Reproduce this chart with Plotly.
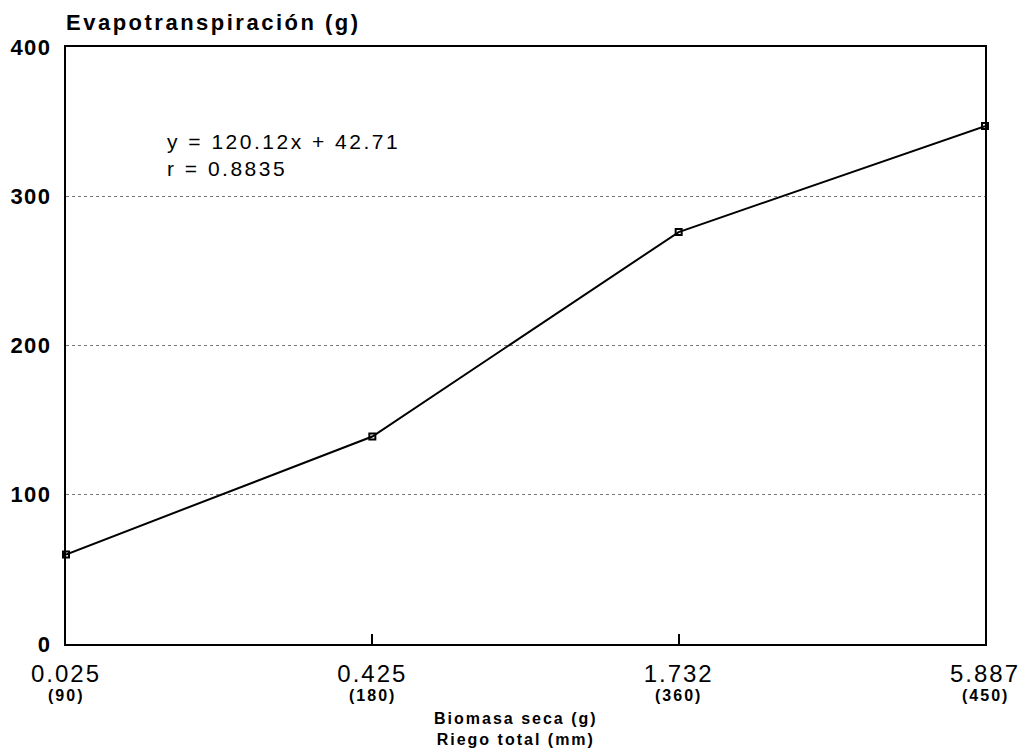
import plotly.graph_objects as go

biomasa = ["0.025", "0.425", "1.732", "5.887"]
riego = ["(90)", "(180)", "(360)", "(450)"]
evapo = [60, 139, 276, 347]
y_ticks = [0, 100, 200, 300, 400]

xi = list(range(len(biomasa)))

font = "Liberation Sans, Arial, sans-serif"

# pixel helpers for annotation placement (plot area 66..985 x 47..644)
L, R, T, B = 66, 38, 47, 107
W, H = 1023, 751
pw = W - L - R
ph = H - T - B
def px(x): return (x - L) / pw
def py(y): return (H - B - y) / ph

def sp(text, ls, bold=False):
    t = f"<span style='letter-spacing:{ls}px'>{text}</span>"
    return f"<b>{t}</b>" if bold else t

fig = go.Figure()
fig.add_trace(go.Scatter(
    x=xi, y=evapo, mode="lines+markers",
    line=dict(color="black", width=2),
    marker=dict(symbol="square-open", size=6, color="black", line=dict(width=2)),
    showlegend=False, cliponaxis=False,
))

annotations = [
    dict(text=sp("Evapotranspiración (g)", 2.5, True), x=px(64), y=py(22), xref="paper", yref="paper",
         xanchor="left", yanchor="middle", showarrow=False, font=dict(size=22, family=font)),
    dict(text=sp("Biomasa seca (g)", 2, True) + "<br>" + sp("Riego total (mm)", 2, True),
         x=px(516), y=py(729),
         xref="paper", yref="paper", xanchor="center", yanchor="middle", align="center",
         showarrow=False, font=dict(size=16, family=font)),
    dict(text=sp("y = 120.12x + 42.71", 2.5) + "<br>" + sp("r = 0.8835", 2.5), x=px(165), y=py(155),
         xref="paper", yref="paper", xanchor="left", yanchor="middle", align="left",
         showarrow=False, font=dict(size=21, family=font)),
]
for i, r in zip(xi, riego):
    annotations.append(dict(text=sp(r, 2, True), x=i, y=py(695), xref="x", yref="paper",
                            xanchor="center", yanchor="middle", showarrow=False,
                            font=dict(size=16, family=font)))

fig.update_layout(
    width=W, height=H,
    margin=dict(l=L, r=R, t=T, b=B, autoexpand=False),
    paper_bgcolor="white", plot_bgcolor="white",
    font=dict(family=font, color="black"),
    xaxis=dict(
        range=[0, len(biomasa) - 1], tickvals=xi, ticktext=[sp(b, 2) for b in biomasa],
        ticks="inside", ticklen=10, tickcolor="black", tickwidth=1.5,
        tickfont=dict(size=24, family=font), automargin=False,
        showline=True, linecolor="black", linewidth=2, mirror=True,
        showgrid=False, zeroline=False, ticklabelstandoff=7,
    ),
    yaxis=dict(
        range=[0, 400], tickvals=y_ticks, ticktext=[sp(v, 1.5, True) for v in y_ticks],
        tickfont=dict(size=22, family=font), ticks="", automargin=False,
        showline=True, linecolor="black", linewidth=2, mirror=True,
        showgrid=True, gridcolor="#777777", griddash="dot", gridwidth=1,
        zeroline=False, ticklabelstandoff=8,
    ),
    annotations=annotations,
)

fig.write_html("out.html")
